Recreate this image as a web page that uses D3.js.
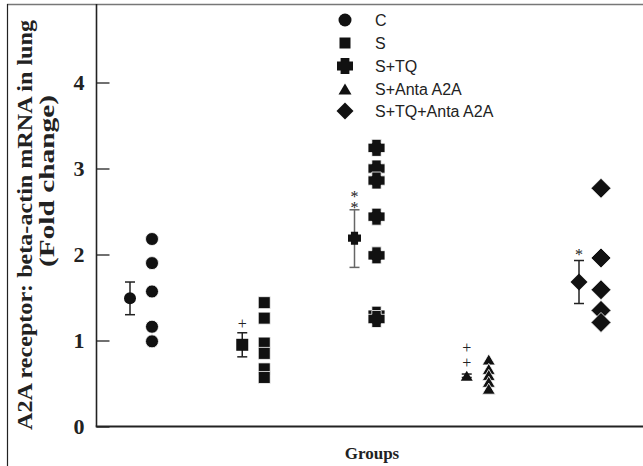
<!DOCTYPE html>
<html>
<head>
<meta charset="utf-8">
<script src="https://cdn.jsdelivr.net/npm/d3@7"></script>
<style>
html,body{margin:0;padding:0;background:#fff;}
svg{display:block;}
</style>
</head>
<body>
<svg id="chart" width="643" height="466"></svg>
<script>
// ---- data ----
const categories = ["C", "S", "S+TQ", "S+Anta A2A", "S+TQ+Anta A2A"];
const valuesC = [2.18, 1.90, 1.57, 1.16, 0.99];
const valuesS = [1.44, 1.26, 0.97, 0.85, 0.67, 0.57];
const valuesSTQ = [3.24, 3.00, 2.86, 2.44, 1.99, 1.30, 1.25];
const valuesSAnta = [0.78, 0.67, 0.60, 0.52, 0.44];
const valuesSTQAnta = [2.77, 1.96, 1.59, 1.35, 1.21];
const means = [1.49, 0.95, 2.19, 0.59, 1.68];
const errLow = [1.30, 0.81, 1.85, 0.57, 1.43];
const errHigh = [1.68, 1.09, 2.52, 0.61, 1.93];
const signif = ["", "+", "**", "++", "*"];
const yTicks = [0, 1, 2, 3, 4];

const seriesValues = [valuesC, valuesS, valuesSTQ, valuesSAnta, valuesSTQAnta];

const svg = d3.select("#chart");
const W = 643, H = 466;
const serif = "Liberation Serif, Times New Roman, serif";

// frame
svg.append("line").attr("x1", 7).attr("x2", W).attr("y1", 4.5).attr("y2", 4.5)
  .attr("stroke", "#777").attr("stroke-width", 1.6);
svg.append("line").attr("x1", 7.5).attr("x2", 7.5).attr("y1", 4).attr("y2", H)
  .attr("stroke", "#222").attr("stroke-width", 1.2);

const x = d3.scalePoint().domain(categories).range([130, 579]);
const y = d3.scaleLinear().domain([0, 4]).range([426.5, 82.5]);
const xAxisLeft = 96.5;

// symbol types
const crossType = {
  draw(ctx, size) {
    const w = Math.sqrt(size) / 2;
    const t = w * 0.55;
    ctx.moveTo(-t, -w); ctx.lineTo(t, -w); ctx.lineTo(t, -t); ctx.lineTo(w, -t);
    ctx.lineTo(w, t); ctx.lineTo(t, t); ctx.lineTo(t, w); ctx.lineTo(-t, w);
    ctx.lineTo(-t, t); ctx.lineTo(-w, t); ctx.lineTo(-w, -t); ctx.lineTo(-t, -t);
    ctx.closePath();
  }
};
const diamondType = {
  draw(ctx, size) {
    const r = Math.sqrt(size) / 2;
    ctx.moveTo(0, -r); ctx.lineTo(r, 0); ctx.lineTo(0, r); ctx.lineTo(-r, 0); ctx.closePath();
  }
};
const triType = {
  draw(ctx, size) {
    const w = Math.sqrt(size) / 2;
    const h = w * 0.85;
    ctx.moveTo(0, -h); ctx.lineTo(w, h); ctx.lineTo(-w, h); ctx.closePath();
  }
};
const circleType = {
  draw(ctx, size) {
    const r = Math.sqrt(size) / 2;
    ctx.moveTo(r, 0); ctx.arc(0, 0, r, 0, 2 * Math.PI);
  }
};
const squareType = {
  draw(ctx, size) {
    const r = Math.sqrt(size) / 2;
    ctx.rect(-r, -r, 2 * r, 2 * r);
  }
};
// [type, point size (px), mean size, legend size]
const symbols = [
  [circleType, 13, 12, 13],
  [squareType, 12, 12, 11],
  [crossType, 17, 13, 16],
  [triType, 13, 12, 13],
  [diamondType, 20, 17, 17]
];
const sym = (i, d) => d3.symbol().type(symbols[i][0]).size(d * d)();

// axes
const gy = svg.append("g").attr("transform", `translate(${xAxisLeft},0)`)
  .call(d3.axisRight(y).tickValues(yTicks).tickSize(13).tickFormat(""));
gy.select(".domain").remove();
gy.selectAll(".tick line").attr("stroke", "#222").attr("stroke-width", 1.3);
svg.append("line").attr("x1", xAxisLeft).attr("x2", xAxisLeft).attr("y1", 4).attr("y2", y(0))
  .attr("stroke", "#222").attr("stroke-width", 1.6);
svg.append("line").attr("x1", xAxisLeft - 0.8).attr("x2", W).attr("y1", y(0)).attr("y2", y(0))
  .attr("stroke", "#222").attr("stroke-width", 2);

svg.append("g").selectAll("text").data(yTicks).join("text")
  .attr("x", 79).attr("y", d => y(d)).attr("dy", "0.36em")
  .attr("text-anchor", "middle")
  .attr("font-family", serif)
  .attr("font-weight", "bold").attr("font-size", 22).attr("fill", "#222")
  .text(d => d);

// y label
svg.append("text").attr("transform", "translate(32,225) rotate(-90)")
  .attr("text-anchor", "middle")
  .attr("font-family", serif)
  .attr("font-weight", "bold").attr("font-size", 21).attr("fill", "#222")
  .attr("textLength", 410).attr("lengthAdjust", "spacingAndGlyphs")
  .text("A2A receptor:  beta-actin mRNA in lung");
svg.append("text").attr("transform", "translate(54,181) rotate(-90)")
  .attr("text-anchor", "middle")
  .attr("font-family", serif)
  .attr("font-weight", "bold").attr("font-size", 21).attr("fill", "#222")
  .attr("textLength", 172).attr("lengthAdjust", "spacingAndGlyphs")
  .text("(Fold change)");

// x label
svg.append("text").attr("x", 372).attr("y", 459)
  .attr("text-anchor", "middle")
  .attr("font-family", serif)
  .attr("font-weight", "bold").attr("font-size", 17).attr("fill", "#222")
  .text("Groups");

// points
const ptOffset = 22;
categories.forEach((c, i) => {
  const g = svg.append("g");
  g.selectAll("path").data(seriesValues[i]).join("path")
    .attr("d", sym(i, symbols[i][1]))
    .attr("transform", d => `translate(${x(c) + ptOffset},${y(d)})`)
    .attr("fill", "#111").attr("stroke", "#fff").attr("stroke-width", 0.8);

  const eg = svg.append("g").attr("stroke", i === 2 ? "#666" : "#222").attr("stroke-width", 1.5);
  eg.append("line").attr("x1", x(c)).attr("x2", x(c)).attr("y1", y(errLow[i])).attr("y2", y(errHigh[i]));
  [errLow[i], errHigh[i]].forEach(v => {
    eg.append("line").attr("x1", x(c) - 5).attr("x2", x(c) + 5).attr("y1", y(v)).attr("y2", y(v));
  });
  svg.append("path").attr("d", sym(i, symbols[i][2]))
    .attr("transform", `translate(${x(c)},${y(means[i])})`)
    .attr("fill", "#111");
});

// significance marks: one text each, stacked vertically via vertical writing mode
const sigCenter = [0, 323, 196, 354, 250];
const sigSpacing = [0, 0, -6, -2, 0];
categories.forEach((c, i) => {
  const s = signif[i];
  if (!s) return;
  const isStar = s[0] === "*";
  const t = svg.append("text")
    .attr("font-family", serif).attr("font-size", 16).attr("fill", "#222");
  if (s.length === 1) {
    t.attr("x", x(c)).attr("y", sigCenter[i] + (isStar ? 10 : 6))
      .attr("text-anchor", "middle").text(s);
  } else {
    t.attr("x", x(c)).attr("y", sigCenter[i] + (isStar ? 3 : 0))
      .style("writing-mode", "vertical-lr")
      .style("text-orientation", "upright")
      .attr("text-anchor", "middle")
      .attr("letter-spacing", sigSpacing[i])
      .text(s);
  }
});

// legend
const lg = svg.append("g").attr("font-family", "Liberation Sans, Arial, sans-serif")
  .attr("font-size", 16).attr("fill", "#222");
const legendY = [20, 43, 66, 89, 111];
categories.forEach((c, i) => {
  lg.append("path").attr("d", sym(i, symbols[i][3]))
    .attr("transform", `translate(345,${legendY[i]})`).attr("fill", "#111");
  lg.append("text").attr("x", 375).attr("y", legendY[i]).attr("dy", "0.36em").text(c);
});
</script>
</body>
</html>
